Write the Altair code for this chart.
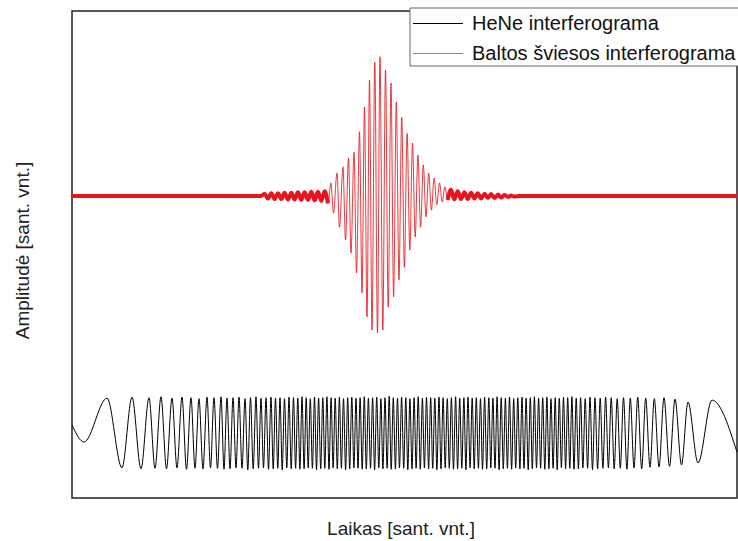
import altair as alt
import pandas as pd

# ---------------- data (relative units) ----------------
SERIES = ["HeNe interferograma", "Baltos šviesos interferograma"]
COLORS = ["#000000", "#e8141c"]

# HeNe interferogram: positions and levels of its maxima and minima
hene_peak_t = [35, 60, 77, 89, 100, 110, 119, 127, 135, 142,
               149, 155, 161, 167, 173, 178.5, 184, 189, 194, 199,
               203.5, 208, 212.5, 217, 221.5, 225.8, 230, 234.2, 238.3, 242.5,
               246.6, 250.8, 254.9, 259.1, 263.2, 267.4, 271.5, 275.7, 279.8, 284,
               288.1, 292.3, 296.4, 300.6, 304.7, 308.9, 313, 317.2, 321.3, 325.5,
               329.6, 333.8, 337.9, 342.1, 346.2, 350.4, 354.5, 358.7, 362.8, 367,
               371.1, 375.3, 379.4, 383.6, 387.7, 391.9, 396, 400.2, 404.3, 408.5,
               412.6, 416.8, 420.9, 425.1, 429.2, 433.4, 437.5, 441.7, 445.8, 450,
               454.1, 458.3, 462.4, 466.6, 470.7, 474.9, 479, 483.2, 487.3, 491.5,
               495.7, 499.9, 504.2, 508.6, 513.2, 518, 523, 528.2, 533.6, 539.2,
               545.2, 551.5, 558.3, 565.7, 573.7, 582.3, 592, 603, 616, 640]
hene_peak_v = [20.5, 20.7, 20.6, 20.8, 20.5, 20.7, 20.6, 20.4, 20.7, 20.6,
               20.8, 20.5, 20.6, 20.7, 20.4, 20.6, 20.8, 20.5, 20.6, 20.7,
               20.5, 20.6, 20.4, 20.7, 20.6, 20.5, 20.8, 20.6, 20.4, 20.7,
               20.5, 20.6, 20.8, 20.6, 20.5, 20.7, 20.4, 20.6, 20.7, 20.5,
               20.6, 20.8, 20.5, 20.6, 20.7, 20.4, 20.6, 20.9, 20.6, 20.5,
               20.7, 20.6, 20.4, 20.6, 20.8, 20.5, 20.7, 20.6, 20.5, 20.7,
               20.6, 20.4, 20.6, 20.8, 20.5, 20.6, 20.7, 20.5, 20.6, 20.4,
               20.7, 20.6, 20.5, 20.8, 20.6, 20.5, 20.7, 20.4, 20.6, 20.7,
               20.5, 20.6, 20.8, 20.5, 20.6, 20.7, 20.4, 20.6, 20.5, 20.7,
               20.6, 20.8, 20.5, 20.6, 20.4, 20.7, 20.6, 20.5, 20.7, 20.6,
               20.4, 20.6, 20.5, 20.7, 20.5, 20.4, 20.6, 20.3, 19.7, 20.1]
hene_trough_t = [12, 50, 69, 83, 94.5, 105, 114.5, 123, 131, 138.5,
                 145.5, 152, 158, 164, 170, 175.8, 181.2, 186.5, 191.5, 196.5,
                 201.2, 205.8, 210.2, 214.8, 219.2, 223.6, 227.9, 232.1, 236.2, 240.4,
                 244.5, 248.7, 252.8, 257, 261.1, 265.3, 269.4, 273.6, 277.7, 281.9,
                 286, 290.2, 294.3, 298.5, 302.6, 306.8, 310.9, 315.1, 319.2, 323.4,
                 327.5, 331.7, 335.8, 340, 344.1, 348.3, 352.4, 356.6, 360.7, 364.9,
                 369, 373.2, 377.3, 381.5, 385.6, 389.8, 393.9, 398.1, 402.2, 406.4,
                 410.5, 414.7, 418.8, 423, 427.1, 431.3, 435.4, 439.6, 443.7, 447.9,
                 452, 456.2, 460.3, 464.5, 468.6, 472.8, 476.9, 481.1, 485.2, 489.4,
                 493.6, 497.8, 502, 506.4, 510.9, 515.6, 520.5, 525.6, 530.9, 536.4,
                 542.2, 548.3, 554.9, 562, 569.7, 578, 587, 597.5, 609.5, 626]
hene_trough_v = [11.5, 6.2, 6.0, 6.1, 6.0, 6.2, 5.9, 6.1, 6.0, 6.2,
                 6.1, 5.9, 6.0, 6.2, 6.1, 5.8, 6.0, 6.1, 6.2, 5.9,
                 6.0, 6.1, 5.8, 6.2, 6.0, 6.1, 5.9, 6.0, 6.2, 6.1,
                 5.8, 6.0, 6.1, 5.9, 6.2, 6.0, 6.1, 5.8, 6.0, 6.2,
                 6.1, 5.9, 6.0, 6.1, 5.8, 6.2, 6.0, 6.1, 5.9, 6.0,
                 6.2, 6.1, 5.8, 6.0, 6.1, 5.9, 6.2, 6.0, 6.1, 5.8,
                 6.0, 6.2, 6.1, 5.9, 6.0, 6.1, 5.8, 6.2, 6.0, 6.1,
                 5.9, 6.0, 6.2, 6.1, 5.8, 6.0, 6.1, 5.9, 6.2, 6.0,
                 6.1, 5.8, 6.0, 6.2, 6.1, 5.9, 6.0, 6.1, 5.8, 6.2,
                 6.0, 6.1, 5.9, 6.0, 6.2, 6.1, 5.8, 6.0, 6.1, 6.2,
                 6.0, 6.1, 5.9, 6.2, 6.0, 6.3, 6.4, 6.5, 6.8, 7.2]
hene_start_t, hene_start_v = 0, 15.0
hene_end_t, hene_end_v = 665, 9.4

# White-light interferogram: positions and levels of its extrema
red_t = [0, 189,
         192.6, 196, 199.3, 202.6, 206, 209.3, 212.6, 216, 219.3, 222.6,
         226, 229.3, 232.6, 236, 239.3, 242.6, 246, 249.3, 252.6, 256,
         259, 261.5, 265, 267.5, 271, 273.5, 276.5, 279, 282, 284.5,
         287.5, 290, 292.5, 295, 297.5, 300, 302.8, 305.5, 308, 310.8,
         313.5, 316.2, 319, 321.6, 324.3, 327, 329.7, 332.4, 335.1, 337.8,
         340.5, 343.2, 345.9, 348.6, 351.3, 354, 356.7, 359.4, 362.1, 364.8,
         367.5, 370.2, 372.9, 375.6, 379, 382.3, 385.7, 389, 392.4, 395.7,
         399, 402.4, 405.8, 409, 412.5, 416, 419, 422.5, 426, 429,
         432.5, 436, 439, 442, 448, 665]
red_v = [62.0, 62.0,
         62.5, 61.5, 62.6, 61.4, 62.6, 61.4, 62.7, 61.3, 62.7, 61.3,
         62.8, 61.2, 62.8, 61.2, 62.9, 61.1, 62.9, 61.0, 63.0, 60.5,
         64.7, 58.5, 66.7, 55.6, 68.0, 53.0, 69.8, 50.3, 71.0, 46.2,
         75.2, 42.1, 80.3, 37.2, 85.8, 34.5, 89.5, 33.9, 90.6, 34.5,
         87.9, 39.2, 85.2, 41.3, 81.3, 44.8, 78.2, 47.4, 74.9, 50.9,
         72.9, 53.6, 70.4, 55.6, 68.4, 57.7, 66.7, 59.1, 65.7, 60.2,
         64.7, 60.8, 63.9, 61.2, 63.3, 61.3, 63.0, 61.4, 62.8, 61.4,
         62.7, 61.5, 62.6, 61.5, 62.5, 61.6, 62.4, 61.6, 62.3, 61.7,
         62.2, 61.8, 62.1, 61.9, 62.0, 62.0]

X_TITLE = "Laikas [sant. vnt.]"
Y_TITLE = "Amplitudė [sant. vnt.]"

# ---------------- build tables ----------------
hene_t = [hene_start_t]
hene_v = [hene_start_v]
for tt, tv, pt, pv in zip(hene_trough_t, hene_trough_v, hene_peak_t, hene_peak_v):
    hene_t += [tt, pt]
    hene_v += [tv, pv]
hene_t.append(hene_end_t)
hene_v.append(hene_end_v)

df_hene = pd.DataFrame({"t": hene_t, "v": hene_v, "series": SERIES[0]})
df_red = pd.DataFrame({"t": red_t, "v": red_v, "series": SERIES[1]})

# noisy (thick looking) parts of the white-light trace, outside the packet
df_red_noise = df_red.copy()
df_red_noise["part"] = ["a" if t <= 256 else ("b" if t >= 375.6 else "m") for t in red_t]
df_red_noise = df_red_noise[df_red_noise["part"] != "m"]

FONT = "Liberation Sans"

x_enc = alt.X("t:Q", scale=alt.Scale(domain=[0, 665], nice=False, zero=False),
              axis=alt.Axis(title=X_TITLE, labels=False, ticks=False, domain=False,
                            grid=False, titleFont=FONT, titleFontSize=19,
                            titleFontWeight="normal", titleColor="#222",
                            titleX=328.5, titleY=30, titleAlign="center",
                            titleBaseline="middle"))
y_enc = alt.Y("v:Q", scale=alt.Scale(domain=[0, 100], nice=False, zero=False),
              axis=alt.Axis(title=Y_TITLE, labels=False, ticks=False, domain=False,
                            grid=False, titleFont=FONT, titleFontSize=19,
                            titleFontWeight="normal", titleColor="#222",
                            titleX=-50, titleY=239, titleAngle=270,
                            titleAlign="center", titleBaseline="middle"))
color_enc = alt.Color("series:N", scale=alt.Scale(domain=SERIES, range=COLORS),
                      legend=None)

hene_line = alt.Chart(df_hene).mark_line(strokeWidth=1, interpolate="monotone").encode(
    x=x_enc, y=y_enc, color=color_enc)
red_line = alt.Chart(df_red).mark_line(strokeWidth=1, interpolate="monotone",
                                        opacity=0.85).encode(
    x=x_enc, y=y_enc, color=color_enc)
red_noise = alt.Chart(df_red_noise).mark_line(strokeWidth=4, interpolate="monotone").encode(
    x=x_enc, y=y_enc, color=color_enc, detail="part:N")

# ---------------- legend box (drawn by hand, like the original) ----------------
one = pd.DataFrame({"k": [0]})
leg_box = alt.Chart(one).mark_rect(fill="white", stroke="#666", strokeWidth=1).encode(
    x=alt.value(338), x2=alt.value(700), y=alt.value(-3), y2=alt.value(55))
leg_rule1 = alt.Chart(one).mark_rule(strokeWidth=1, color=COLORS[0]).encode(
    x=alt.value(341), x2=alt.value(391), y=alt.value(12.5))
leg_rule2 = alt.Chart(one).mark_rule(strokeWidth=1, color=COLORS[1], opacity=0.7).encode(
    x=alt.value(341), x2=alt.value(391), y=alt.value(42.5))
leg_text1 = alt.Chart(one).mark_text(align="left", baseline="middle", font=FONT,
                                     fontSize=20, color="#111").encode(
    x=alt.value(400), y=alt.value(13), text=alt.value(SERIES[0]))
leg_text2 = alt.Chart(one).mark_text(align="left", baseline="middle", font=FONT,
                                     fontSize=20, color="#111").encode(
    x=alt.value(400), y=alt.value(43), text=alt.value(SERIES[1]))

chart = alt.layer(red_noise, red_line, hene_line,
                  leg_box, leg_rule1, leg_rule2, leg_text1, leg_text2).properties(
    width=665, height=487,
    padding={"left": 72, "top": 11, "right": 1, "bottom": 43},
    autosize=alt.AutoSizeParams(type="none"),
    background="white",
).configure_view(stroke="#222", strokeWidth=1.5)

chart.save("out.html", embed_options={"renderer": "svg", "actions": False})
